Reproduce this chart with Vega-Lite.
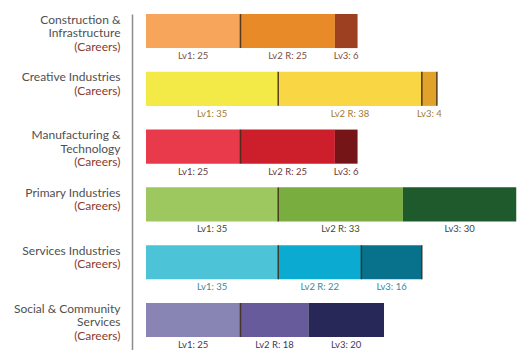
{
  "$schema": "https://vega.github.io/schema/vega-lite/v6.json",
  "width": 371,
  "height": 336,
  "autosize": "none",
  "padding": {"left": 146, "top": 14, "right": 2, "bottom": 0},
  "config": {"view": {"stroke": null}, "font": "Lato"},
  "data": {
    "values": [
      {"cat": "Construction &\nInfrastructure", "level": "Lv1", "value": 25},
      {"cat": "Construction &\nInfrastructure", "level": "Lv2 R", "value": 25},
      {"cat": "Construction &\nInfrastructure", "level": "Lv3", "value": 6},
      {"cat": "Creative Industries", "level": "Lv1", "value": 35},
      {"cat": "Creative Industries", "level": "Lv2 R", "value": 38},
      {"cat": "Creative Industries", "level": "Lv3", "value": 4},
      {"cat": "Manufacturing &\nTechnology", "level": "Lv1", "value": 25},
      {"cat": "Manufacturing &\nTechnology", "level": "Lv2 R", "value": 25},
      {"cat": "Manufacturing &\nTechnology", "level": "Lv3", "value": 6},
      {"cat": "Primary Industries", "level": "Lv1", "value": 35},
      {"cat": "Primary Industries", "level": "Lv2 R", "value": 33},
      {"cat": "Primary Industries", "level": "Lv3", "value": 30},
      {"cat": "Services Industries", "level": "Lv1", "value": 35},
      {"cat": "Services Industries", "level": "Lv2 R", "value": 22},
      {"cat": "Services Industries", "level": "Lv3", "value": 16},
      {"cat": "Social & Community\nServices", "level": "Lv1", "value": 25},
      {"cat": "Social & Community\nServices", "level": "Lv2 R", "value": 18},
      {"cat": "Social & Community\nServices", "level": "Lv3", "value": 20}
    ]
  },
  "transform": [
    {"stack": "value", "groupby": ["cat"], "sort": [{"field": "level", "order": "ascending"}], "as": ["x0", "x1"]},
    {"calculate": "(datum.x0 + datum.x1) / 2", "as": "xmid"},
    {"calculate": "datum.cat + '|' + datum.level", "as": "key"},
    {"calculate": "datum.level + ': ' + datum.value", "as": "lab"}
  ],
  "layer": [
    {
      "mark": {"type": "bar"},
      "encoding": {
        "y": {
          "field": "cat", "type": "nominal", "sort": null,
          "scale": {"paddingInner": 0.41, "paddingOuter": 0.112, "align": 0},
          "axis": {
            "orient": "left", "offset": 14, "domain": true, "domainColor": "#8c8c8c", "domainWidth": 1.5,
            "ticks": false, "grid": false, "title": null,
            "labelExpr": "split(datum.label, '\\n')",
            "labelAlign": "right", "labelBaseline": "top", "labelOffset": -16.5, "labelPadding": 12,
            "labelFontSize": 12, "labelColor": "#505050", "labelLineHeight": 13.5, "labelFont": "Lato", "labelLimit": 0
          }
        },
        "x": {"field": "x0", "type": "quantitative", "scale": {"domain": [0, 98.2], "nice": false}, "axis": null},
        "x2": {"field": "x1"},
        "color": {
          "field": "key", "type": "nominal", "legend": null,
          "scale": {
            "domain": [
              "Construction &\nInfrastructure|Lv1", "Construction &\nInfrastructure|Lv2 R", "Construction &\nInfrastructure|Lv3",
              "Creative Industries|Lv1", "Creative Industries|Lv2 R", "Creative Industries|Lv3",
              "Manufacturing &\nTechnology|Lv1", "Manufacturing &\nTechnology|Lv2 R", "Manufacturing &\nTechnology|Lv3",
              "Primary Industries|Lv1", "Primary Industries|Lv2 R", "Primary Industries|Lv3",
              "Services Industries|Lv1", "Services Industries|Lv2 R", "Services Industries|Lv3",
              "Social & Community\nServices|Lv1", "Social & Community\nServices|Lv2 R", "Social & Community\nServices|Lv3"
            ],
            "range": [
              "#F6A55B", "#E88A27", "#9D4021",
              "#F3EA48", "#F9D744", "#E0A22A",
              "#E83A4A", "#CC1F2B", "#761518",
              "#9DC75F", "#7AAD40", "#1F5A2D",
              "#4DC3D7", "#0BAAD0", "#08718B",
              "#8884B4", "#675B9B", "#272858"
            ]
          }
        }
      }
    },
    {
      "mark": {"type": "text", "fontSize": 9.5, "baseline": "middle", "align": "center", "dy": 25, "font": "Lato"},
      "encoding": {
        "y": {
          "field": "cat", "type": "nominal", "sort": null,
          "scale": {"paddingInner": 0.41, "paddingOuter": 0.112, "align": 0},
          "axis": {
            "orient": "left", "offset": 14, "domain": false, "ticks": false, "grid": false, "title": null,
            "labelExpr": "'(Careers)'",
            "labelAlign": "right", "labelBaseline": "top", "labelPadding": 12,
            "labelOffset": {"condition": {"test": "datum.value == 'Construction &\\nInfrastructure' || datum.value == 'Manufacturing &\\nTechnology' || datum.value == 'Social & Community\\nServices'", "value": 10.5}, "value": -3},
            "labelFontSize": 12, "labelColor": "#8B3A2E", "labelFont": "Lato", "labelLimit": 0
          }
        },
        "x": {"field": "xmid", "type": "quantitative", "scale": {"domain": [0, 98.2], "nice": false}, "axis": null},
        "text": {"field": "lab"},
        "color": {
          "field": "cat", "type": "nominal", "legend": null,
          "scale": {
            "domain": ["Construction &\nInfrastructure", "Creative Industries", "Manufacturing &\nTechnology", "Primary Industries", "Services Industries", "Social & Community\nServices"],
            "range": ["#7A5040", "#A07A30", "#6A3A3A", "#3E4A30", "#3A8A9A", "#3A3A5A"]
          }
        }
      }
    },
    {
      "transform": [{"filter": "datum.level == 'Lv1' || datum.cat == 'Creative Industries' || datum.cat == 'Services Industries'"}],
      "mark": {"type": "tick", "orient": "vertical", "size": 34, "thickness": 1.5, "color": "#3a2410", "opacity": 0.85},
      "encoding": {
        "y": {
          "field": "cat", "type": "nominal", "sort": null,
          "scale": {"paddingInner": 0.41, "paddingOuter": 0.112, "align": 0},
          "axis": null
        },
        "x": {"field": "x1", "type": "quantitative", "scale": {"domain": [0, 98.2], "nice": false}, "axis": null}
      }
    }
  ],
  "resolve": {"scale": {"color": "independent"}, "axis": {"y": "independent"}}
}
